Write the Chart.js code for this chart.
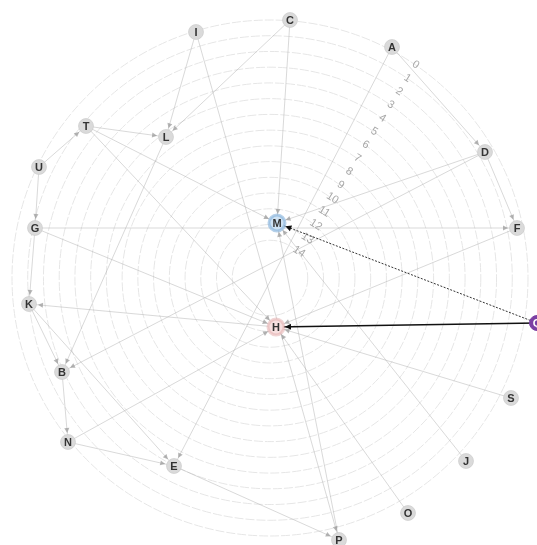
<!DOCTYPE html>
<html><head><meta charset="utf-8">
<script src="https://cdn.jsdelivr.net/npm/chart.js@4/dist/chart.umd.min.js"></script>
<style>html,body{margin:0;padding:0;background:#fff;overflow:hidden}#wrap{width:537px;height:545px;position:relative}</style>
</head><body><div id="wrap"><canvas id="c"></canvas></div>
<script>
// ring values (radial distance levels)
const ringValues = [0,1,2,3,4,5,6,7,8,9,10,11,12,13,14];
const ringMax = 16.4;
// graph nodes
const nodeNames = ['A','B','C','D','E','F','G','H','I','J','K','L','M','N','O','P','Q','S','T','U'];
const nodeX = [122,-208,20,215,-96,247,-235,6,-74,196,-241,-104,7,-202,138,69,267,241,-184,-231];
const nodeY = [231,-94,258,126,-188,50,50,-49,246,-183,-26,141,55,-164,-235,-262,-45,-120,152,111];
const nodeFill = {M:'#cfe2f3', H:'#f7e0e0', Q:'#7b3fa3'};
// light edges: source -> target
const edgeFrom = ['A','D','C','C','I','I','T','T','T','U','U','G','G','G','H','K','K','B','N','N','E','L','A','D','D','F','S','O','J','P'];
const edgeTo   = ['D','F','L','M','L','P','L','M','H','T','G','F','H','K','K','B','E','N','E','H','P','B','E','M','B','H','H','H','M','M'];
// highlighted edges
const strongFrom = ['Q','Q'];
const strongTo = ['M','H'];

const pos = n => { const i = nodeNames.indexOf(n); return {x: nodeX[i], y: nodeY[i]}; };

const datasets = [];
datasets.push({
  type:'scatter', label:'nodes', order:0, clip:false,
  data: nodeNames.map(n => pos(n)),
  pointRadius: nodeNames.map(n => (n==='M'||n==='H') ? 8 : 7.5),
  pointHoverRadius: 8,
  pointBackgroundColor: nodeNames.map(n => nodeFill[n] || '#dadada'),
  pointBorderColor: nodeNames.map(n => n==='M' ? 'rgba(120,170,215,0.55)' : n==='H' ? 'rgba(225,170,170,0.5)' : n==='Q' ? '#7b3fa3' : 'rgba(200,200,200,0.6)'),
  pointBorderWidth: nodeNames.map(n => (n==='M'||n==='H') ? 3 : 1)
});
edgeFrom.forEach((f, i) => {
  datasets.push({type:'line', label:'e'+i, order:2, clip:false, showLine:true, kind:'light',
    data:[pos(f), pos(edgeTo[i])], borderColor:'rgba(170,170,170,0.45)', borderWidth:1,
    pointRadius:0, fill:false, tension:0});
});
strongFrom.forEach((f, i) => {
  datasets.push({type:'line', label:'s'+i, order:1, clip:false, showLine:true, kind:'strong',
    data:[pos(f), pos(strongTo[i])], borderColor: i===0 ? '#333' : '#111', borderWidth: i===0 ? 1 : 1.6,
    borderDash: i===0 ? [2,1.5] : [], pointRadius:0, fill:false, tension:0});
});

const graphPlugin = {
  id:'graphDecor',
  afterDatasetsDraw(chart){
    const ctx = chart.ctx;
    ctx.save();
    chart.data.datasets.forEach((ds, di) => {
      if (!ds.kind) return;
      const meta = chart.getDatasetMeta(di);
      const a = meta.data[0], b = meta.data[1];
      const dx = b.x - a.x, dy = b.y - a.y, L = Math.hypot(dx, dy);
      const ux = dx/L, uy = dy/L;
      const r = 9, s = ds.kind==='strong' ? 6 : 5, w = ds.kind==='strong' ? 3 : 2.5;
      const tx = b.x - ux*r, ty = b.y - uy*r;
      ctx.fillStyle = ds.kind==='strong' ? '#111' : 'rgba(150,150,150,0.7)';
      ctx.beginPath();
      ctx.moveTo(tx, ty);
      ctx.lineTo(tx - ux*s - uy*w, ty - uy*s + ux*w);
      ctx.lineTo(tx - ux*s + uy*w, ty - uy*s - ux*w);
      ctx.closePath();
      ctx.fill();
    });
    const meta = chart.getDatasetMeta(0);
    ctx.font = 'bold 11px "Liberation Sans", Arial, sans-serif';
    ctx.textAlign = 'center';
    ctx.textBaseline = 'middle';
    meta.data.forEach((el, i) => {
      const n = nodeNames[i];
      ctx.fillStyle = n==='Q' ? '#fff' : '#333';
      ctx.fillText(n, el.x, el.y + 0.5);
    });
    ctx.restore();
  }
};

new Chart(document.getElementById('c'), {
  type:'scatter',
  data:{datasets},
  plugins:[graphPlugin],
  options:{
    responsive:true, maintainAspectRatio:false, animation:false,
    layout:{autoPadding:false, padding:{left:4,right:1,top:11,bottom:0}},
    plugins:{legend:{display:false}, tooltip:{enabled:false}},
    events:[],
    scales:{
      x:{type:'linear', min:-266, max:266, display:false},
      y:{type:'linear', min:-267, max:267, display:false},
      r:{type:'radialLinear', min:0, max:ringMax, reverse:true, startAngle:32,
        angleLines:{display:false}, pointLabels:{display:false},
        grid:{circular:true, color:'#e6e6e6', lineWidth:1},
        border:{dash:[9,2]},
        afterBuildTicks:(s)=>{ s.ticks = [{value:ringMax}].concat(ringValues.map(v=>({value:v}))); },
        ticks:{showLabelBackdrop:false, color:'#a8a8a8', font:{size:11, family:'"Liberation Sans", Arial'},
          callback:(v)=> ringValues.includes(v) ? '       ' + v : ''}
      }
    }
  }
});
</script></body></html>
